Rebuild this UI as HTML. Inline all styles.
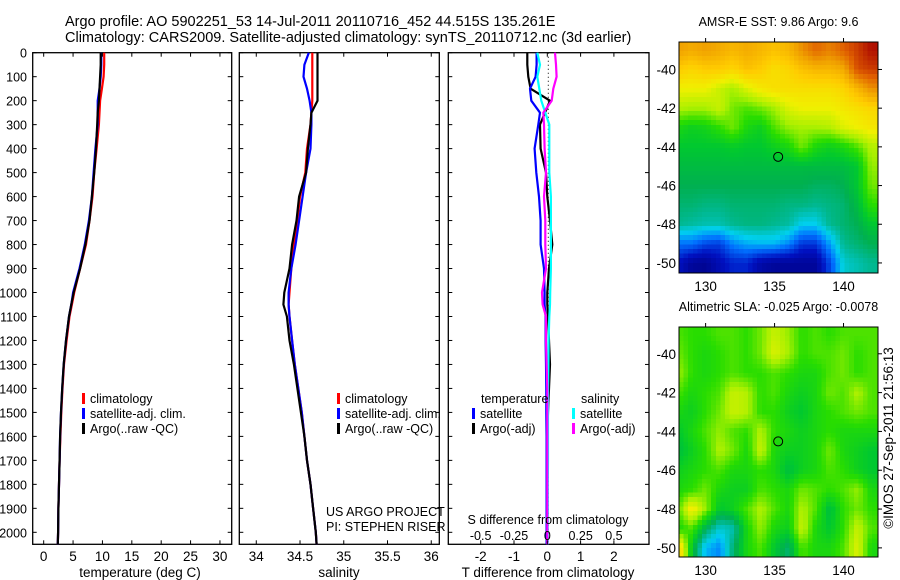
<!DOCTYPE html>
<html><head><meta charset="utf-8"><style>
html,body{margin:0;padding:0;background:#fff;width:900px;height:580px;overflow:hidden}
svg{display:block}
text{font-family:"Liberation Sans",sans-serif;font-size:13px;fill:#000}
.t145{font-size:14.5px}
.t135{font-size:13.5px}
.t125{font-size:12.5px}
.t12{font-size:12.5px}
</style></head><body>
<svg id="fig" width="900" height="580" viewBox="0 0 900 580" xmlns="http://www.w3.org/2000/svg">
<defs>
<clipPath id="clip1"><rect x="679" y="42" width="199" height="231"/></clipPath>
<clipPath id="clip2"><rect x="679" y="327" width="199" height="230"/></clipPath>
</defs>
<text class="t145" x="65" y="26">Argo profile: AO 5902251_53 14-Jul-2011 20110716_452 44.515S 135.261E</text>
<text class="t145" x="65" y="42">Climatology: CARS2009. Satellite-adjusted climatology: synTS_20110712.nc (3d earlier)</text>
<g id="g"></g>
</svg>
<script>
// ---- profile data ----
const depths = [0,50,100,150,200,250,300,400,500,600,700,800,900,1000,1050,1100,1200,1300,1400,1500,1600,1700,1800,1900,2000,2050];
const tempClim = [10.3,10.3,10.2,9.9,9.6,9.5,9.4,9.0,8.6,8.3,7.8,7.2,6.2,5.2,4.8,4.4,3.9,3.45,3.2,3.0,2.85,2.7,2.6,2.5,2.45,2.4];
const tempSat  = [9.8,9.8,9.7,9.5,9.2,9.2,9.2,8.8,8.5,8.2,7.7,7.0,6.1,5.0,4.7,4.3,3.8,3.4,3.15,2.95,2.8,2.7,2.6,2.5,2.45,2.4];
const tempArgo = [9.7,9.7,9.6,9.5,9.4,9.2,9.1,8.9,8.6,8.2,7.8,7.1,6.2,5.1,4.7,4.3,3.8,3.4,3.15,2.95,2.8,2.7,2.6,2.5,2.45,2.4];
const salClim = [34.64,34.64,34.64,34.64,34.64,34.63,34.62,34.58,34.56,34.5,34.47,34.43,34.40,34.38,34.37,34.38,34.41,34.44,34.48,34.52,34.55,34.58,34.62,34.65,34.68,34.69];
const salSat  = [34.6,34.55,34.54,34.58,34.61,34.63,34.63,34.62,34.57,34.53,34.49,34.45,34.40,34.37,34.37,34.38,34.41,34.44,34.48,34.52,34.55,34.58,34.62,34.65,34.68,34.69];
const salArgo = [34.70,34.70,34.70,34.70,34.70,34.63,34.62,34.59,34.57,34.49,34.46,34.41,34.38,34.32,34.31,34.35,34.38,34.43,34.47,34.51,34.55,34.58,34.62,34.65,34.68,34.69];
const tDiffSat  = [-0.32,-0.32,-0.35,-0.52,-0.48,-0.22,-0.27,-0.38,-0.33,-0.25,-0.2,-0.2,-0.1,-0.08,-0.08,-0.05,-0.05,-0.04,-0.03,-0.03,-0.02,-0.02,-0.02,-0.02,-0.02,-0.02];
const tDiffArgo = [-0.6,-0.6,-0.57,-0.5,0.08,-0.07,-0.22,-0.2,-0.04,0.0,0.08,0.15,0.05,0.0,0.0,0.02,0.05,0.08,0.05,0.02,0.0,0.0,0.0,0.0,0.0,0.0];
const sDiffSat  = [-0.075,-0.055,-0.075,-0.06,-0.045,-0.015,0.015,0.015,0.015,0.027,0.027,0.027,0.027,0.022,0.02,0.015,0.01,0.008,0.006,0.005,0.005,0.005,0.004,0.004,0.003,0.003];
const sDiffArgo = [0.058,0.065,0.07,0.045,0.033,-0.03,-0.025,-0.02,-0.01,-0.025,-0.015,-0.015,-0.01,-0.04,-0.035,-0.01,-0.01,-0.005,0,0,0,0,0,0,0,0];
const depthTicks = [0,100,200,300,400,500,600,700,800,900,1000,1100,1200,1300,1400,1500,1600,1700,1800,1900,2000];
const tempTicks = [0,5,10,15,20,25,30];
const salTicks = [34,34.5,35,35.5,36];
const salTickLabels = ["34","34.5","35","35.5","36"];
const tDiffTicks = [-2,-1,0,1,2];
const sDiffTicks = [-0.5,-0.25,0,0.25,0.5];
const sDiffTickLabels = ["-0.5","-0.25","0","0.25","0.5"];
// ---- map data (rows lat -39..-50, cols lon 128..142) ----
const mapLons = [128,129,130,131,132,133,134,135,136,137,138,139,140,141,142];
const mapLats = [-39,-40,-41,-42,-43,-44,-45,-46,-47,-48,-49,-50];
const sstGrid = [
[.78,.76,.78,.76,.74,.76,.74,.72,.74,.8,.85,.82,.86,.9,.95],
[.7,.68,.7,.7,.68,.72,.7,.66,.68,.72,.74,.74,.76,.88,.9],
[.62,.62,.62,.58,.55,.6,.64,.66,.66,.66,.66,.66,.68,.74,.8],
[.56,.55,.55,.58,.52,.5,.52,.55,.6,.62,.62,.62,.64,.66,.68],
[.46,.44,.45,.48,.52,.46,.44,.5,.54,.55,.55,.56,.6,.62,.64],
[.42,.42,.42,.42,.43,.42,.42,.44,.46,.52,.46,.44,.46,.5,.56],
[.4,.4,.4,.4,.4,.4,.4,.4,.4,.4,.4,.4,.4,.42,.54],
[.38,.38,.38,.38,.38,.38,.38,.38,.38,.38,.37,.37,.38,.42,.52],
[.36,.36,.35,.35,.36,.36,.36,.36,.35,.35,.34,.35,.36,.4,.48],
[.34,.33,.32,.32,.34,.35,.35,.34,.33,.28,.28,.34,.36,.38,.42],
[.2,.2,.16,.15,.22,.25,.26,.26,.22,.14,.14,.24,.34,.36,.38],
[.1,.04,.03,.08,.12,.12,.06,.04,.04,.04,.04,.16,.3,.32,.34]];
const slaGrid = [
[.5,.48,.48,.5,.5,.48,.52,.58,.54,.48,.5,.48,.5,.5,.5],
[.52,.48,.46,.48,.5,.48,.52,.6,.55,.48,.5,.5,.52,.48,.5],
[.55,.48,.46,.48,.5,.48,.48,.5,.48,.46,.46,.5,.52,.48,.5],
[.5,.46,.48,.5,.58,.56,.48,.5,.46,.44,.46,.52,.5,.56,.5],
[.46,.44,.48,.52,.58,.56,.48,.48,.44,.42,.46,.48,.5,.52,.5],
[.42,.46,.5,.54,.5,.48,.56,.48,.46,.44,.46,.48,.46,.46,.46],
[.4,.44,.48,.56,.52,.46,.58,.46,.44,.44,.46,.52,.46,.44,.42],
[.44,.46,.48,.5,.46,.46,.48,.46,.4,.44,.46,.5,.48,.44,.42],
[.46,.48,.52,.46,.44,.44,.5,.48,.46,.52,.5,.48,.5,.54,.46],
[.5,.64,.54,.42,.44,.5,.56,.5,.46,.56,.5,.4,.48,.52,.48],
[.46,.5,.38,.3,.32,.46,.54,.46,.44,.58,.46,.42,.48,.58,.5],
[.72,.42,.26,.22,.36,.46,.5,.42,.36,.5,.46,.46,.5,.6,.46]];
const lonTicks = [130,135,140];
const latTicks = [-40,-42,-44,-46,-48,-50];
const floatLon = 135.261, floatLat = -44.515;

const NS="http://www.w3.org/2000/svg";
const G=document.getElementById('g');
function mk(tag,attrs,parent){const e=document.createElementNS(NS,tag);for(const k in attrs)e.setAttribute(k,attrs[k]);(parent||G).appendChild(e);return e;}
function txt(x,y,s,anchor,parent,cls){const t=mk('text',{x:x,y:y,'text-anchor':anchor||'start'},parent);if(cls)t.setAttribute('class',cls);t.textContent=s;return t;}

const yTop=52.7,yBot=544.3;
const yD=d=>yTop+(d/2050)*(yBot-yTop);

function panel(name,x0,x1,xmin,xmax){
  const sx=v=>x0+(v-xmin)/(xmax-xmin)*(x1-x0);
  const g=mk('g',{});
  
  
  const r=mk('rect',{x:x0,y:yTop,width:x1-x0,height:yBot-yTop,fill:'none',stroke:'#000','stroke-width':1.3},g);
  
  
  depthTicks.forEach(d=>{
    mk('line',{x1:x0,x2:x0+4,y1:yD(d),y2:yD(d),stroke:'#000'},g);
    mk('line',{x1:x1-4,x2:x1,y1:yD(d),y2:yD(d),stroke:'#000'},g);
  });
  return {g,sx};
}
function series(p,vals,color,name,width){
  const pts=vals.map((v,i)=>p.sx(v).toFixed(1)+','+yD(depths[i]).toFixed(1)).join(' ');
  const l=mk('polyline',{points:pts,fill:'none',stroke:color,'stroke-width':width||2.2,'stroke-linejoin':'miter'},p.g);
  
  
}
function xticks(p,ticks,labels,y){
  ticks.forEach((t,i)=>{
    const x=p.sx(t);
    mk('line',{x1:x,x2:x,y1:yBot-4,y2:yBot,stroke:'#000'},p.g);
    mk('line',{x1:x,x2:x,y1:yTop,y2:yTop+4,stroke:'#000'},p.g);
    const tl=txt(x,y,labels[i],'middle',p.g,'t135');
    
    
  });
}
function legend(p,x,y0,items){
  items.forEach((it,i)=>{
    const y=y0+i*15;
    mk('rect',{x:x,y:y-10,width:3,height:11,fill:it[0]},p.g);
    const t=txt(x+8,y,it[1],'start',p.g,'t125');
    
    
  });
}

depthTicks.forEach(d=>{
  const t=txt(27,yD(d)+5,String(d),'end',G,'t12');
  
  
});

const p1=panel('temperature-panel',32.7,231.7,-1.87,32.0);
series(p1,tempClim,'#ff0000','temp-climatology-line');
series(p1,tempSat,'#0000ff','temp-satellite-line');
series(p1,tempArgo,'#000000','temp-argo-line');
xticks(p1,tempTicks,tempTicks.map(String),561);
let t=txt(140,577,'temperature (deg C)','middle',G,'t135');


legend(p1,82,403,[['#ff0000','climatology'],['#0000ff','satellite-adj. clim.'],['#000','Argo(..raw -QC)']]);

const p2=panel('salinity-panel',239.3,439.3,33.806,36.092);
series(p2,salClim,'#ff0000','sal-climatology-line');
series(p2,salSat,'#0000ff','sal-satellite-line');
series(p2,salArgo,'#000000','sal-argo-line');
xticks(p2,salTicks,salTickLabels,561);
t=txt(339,577,'salinity','middle',G,'t135');


legend(p2,337,403,[['#ff0000','climatology'],['#0000ff','satellite-adj. clim.'],['#000','Argo(..raw -QC)']]);
t=txt(326,516,'US ARGO PROJECT','start',p2.g,'t125');


t=txt(326,531,'PI: STEPHEN RISER','start',p2.g,'t125');



const p3=panel('difference-panel',448.3,649,-2.0,2.0);
p3.sx=v=>547.3+v*33.3;
const sxS=v=>547.3+v*133.3;
mk('line',{x1:548.3,x2:548.3,y1:yTop,y2:yBot,stroke:'#000','stroke-dasharray':'1,3'},p3.g);
series(p3,tDiffArgo,'#000000','tdiff-argo-line');
series(p3,tDiffSat,'#0000ff','tdiff-satellite-line');
const sp={g:p3.g,sx:sxS};
series(sp,sDiffSat,'#00ffff','sdiff-satellite-line');
series(sp,sDiffArgo,'#ff00ff','sdiff-argo-line');
xticks(p3,tDiffTicks,tDiffTicks.map(String),561);
sDiffTicks.forEach((v,i)=>{
  const tl=txt(sxS(v),540,sDiffTickLabels[i],'middle',p3.g,'t125');
  
  
});
t=txt(548,524,'S difference from climatology','middle',G,'t125');


t=txt(548,577,'T difference from climatology','middle',G,'t135');


t=txt(481,403,'temperature','start',p3.g,'t125');


t=txt(581,403,'salinity','start',p3.g,'t125');


legend(p3,472,418,[['#0000ff','satellite'],['#000','Argo(-adj)']]);
legend(p3,572,418,[['#00ffff','satellite'],['#ff00ff','Argo(-adj)']]);

const stops=[[0,[0,0,128]],[0.1,[0,16,192]],[0.2,[0,112,255]],[0.28,[0,208,240]],[0.34,[0,184,144]],[0.38,[0,176,80]],[0.42,[0,200,48]],[0.48,[40,221,0]],[0.55,[168,240,0]],[0.62,[240,240,0]],[0.7,[255,204,0]],[0.78,[240,160,0]],[0.86,[224,96,0]],[0.95,[176,16,0]],[1,[150,0,0]]];
function cmap(v){
  for(let i=1;i<stops.length;i++){if(v<=stops[i][0]){const a=stops[i-1],b=stops[i];const f=(v-a[0])/(b[0]-a[0]);const c=a[1].map((x,k)=>Math.round(x+(b[1][k]-x)*f));return 'rgb('+c.join(',')+')';}}
  return 'rgb(150,0,0)';
}
function sample(grid,lon,lat){
  const fi=Math.max(0,Math.min(mapLons.length-1.001,lon-128));
  const fj=Math.max(0,Math.min(mapLats.length-1.001,-39-lat));
  const i=Math.floor(fi),j=Math.floor(fj),a=fi-i,b=fj-j;
  return grid[j][i]*(1-a)*(1-b)+grid[j][i+1]*a*(1-b)+grid[j+1][i]*(1-a)*b+grid[j+1][i+1]*a*b;
}

function drawMap(name,grid,x0,y0,x1,y1,latTop,latBot,title,clipId){
  const lonMin=128.07,lonMax=142.5;
  const sx=l=>x0+(l-lonMin)/(lonMax-lonMin)*(x1-x0);
  const sy=l=>y0+(latTop-l)/(latTop-latBot)*(y1-y0);
  const ilon=x=>lonMin+(x-x0)/(x1-x0)*(lonMax-lonMin);
  const ilat=y=>latTop-(y-y0)/(y1-y0)*(latTop-latBot);
  const g=mk('g',{});
  
  
  const cg=mk('g',{'clip-path':'url(#'+clipId+')','shape-rendering':'crispEdges'},g);
  const step=4.6;
  for(let y=y0;y<y1;y+=step){
    for(let x=x0;x<x1;x+=step){
      const v=sample(grid,ilon(x+step/2),ilat(y+step/2));
      const c=mk('rect',{x:x.toFixed(1),y:y.toFixed(1),width:step+0.5,height:step+0.5,fill:cmap(v)},cg);
      
      
    }
  }
  const fr=mk('rect',{x:x0,y:y0,width:x1-x0,height:y1-y0,fill:'none',stroke:'#000','stroke-width':1},g);
  
  
  const mk2=mk('circle',{cx:sx(floatLon),cy:sy(floatLat),r:4.5,fill:'none',stroke:'#000','stroke-width':1},g);
  
  
  lonTicks.forEach(l=>{
    const x=sx(l);
    mk('line',{x1:x,x2:x,y1:y0-4,y2:y0,stroke:'#000'},g);
    const tl=txt(x,y1+18,String(l),'middle',g,'t135');
    
    
  });
  latTicks.forEach(l=>{
    const y=sy(l);
    mk('line',{x1:x1,x2:x1+4,y1:y,y2:y,stroke:'#000'},g);
    const tl=txt(676,y+5,String(l),'end',g,'t135');
    
    
  });
  const tt=txt((x0+x1)/2,y0-16,title,'middle',g,'t125');
  
  
}
drawMap('sst-map',sstGrid,679,42,878,273,-38.58,-50.52,'AMSR-E SST: 9.86 Argo: 9.6','clip1');
drawMap('sla-map',slaGrid,679,327,878,557,-38.62,-50.47,'Altimetric SLA: -0.025 Argo: -0.0078','clip2');

t=txt(0,0,'©IMOS 27-Sep-2011 21:56:13','middle',G,'t135');
t.setAttribute('transform','translate(893,438) rotate(-90)');


</script>
</body></html>
